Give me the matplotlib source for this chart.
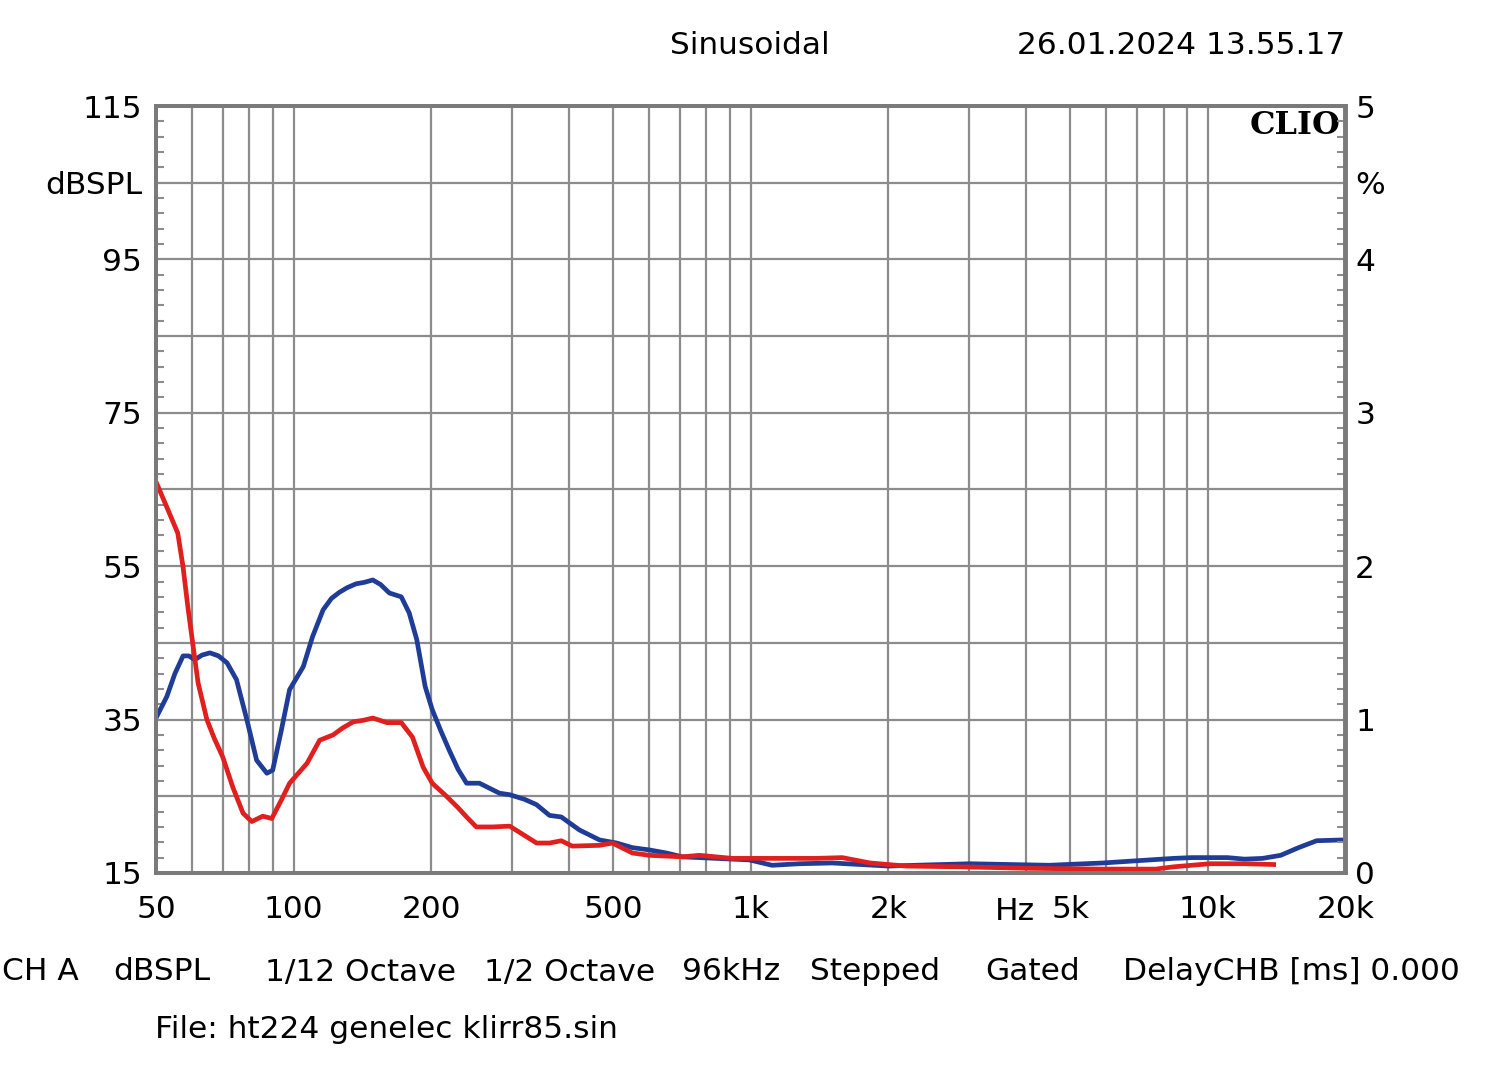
import matplotlib.pyplot as plt
import numpy as np

# curves (frequency in Hz, level on the left dB scale)
blue_f = [50, 52.8, 55, 57.3, 59, 60.8, 63, 65.6, 68.5, 71.5, 75, 79, 83, 87.4, 90, 94, 98, 105, 110, 116,
          121, 126, 131, 137, 143, 149, 155, 162, 172, 179, 186, 194, 201, 210, 219, 229, 239, 255, 282, 297,
          320, 340, 363, 385, 422, 467, 509, 551, 600, 654, 708, 841, 993, 1114, 1276, 1507, 2000, 3015,
          4490, 5890, 7030, 8420, 9220, 11040, 12030, 13170, 14430, 15790, 17290, 19600, 20000]
blue_db = [35.2, 38.0, 41.0, 43.3, 43.3, 42.8, 43.4, 43.7, 43.3, 42.4, 40.2, 35.0, 29.7, 28.0, 28.4, 33.6, 38.9, 41.9, 45.8, 49.3,
           50.8, 51.6, 52.2, 52.7, 52.9, 53.2, 52.6, 51.5, 51.0, 48.9, 45.4, 39.3, 36.3, 33.5, 31.0, 28.5, 26.7, 26.7, 25.4, 25.2,
           24.6, 23.9, 22.5, 22.3, 20.6, 19.3, 18.9, 18.3, 18.0, 17.6, 17.1, 16.9, 16.7, 16.0, 16.2, 16.3, 15.9, 16.2,
           16.0, 16.3, 16.6, 16.9, 17.0, 17.0, 16.8, 16.9, 17.3, 18.3, 19.2, 19.3, 19.3]

red_f = [50, 52.8, 55.8, 57.3, 58.7, 60.3, 61.8, 64.6, 67, 70, 73.6, 77.5, 81, 85.6, 89.6, 94, 98, 107,
         114, 122, 128, 135, 142, 149, 160, 172, 182, 192, 201, 216, 229, 239, 251, 272, 297, 312, 340, 363,
         385, 407, 467, 498, 551, 600, 708, 772, 911, 1081, 1390, 1585, 1824, 2186, 2869,
         4100, 5890, 7690, 8420, 10090, 12030, 13930]
red_db = [66.0, 62.7, 59.3, 54.9, 49.7, 44.5, 39.8, 35.0, 32.6, 30.1, 26.2, 22.8, 21.7, 22.4, 22.1, 24.5, 26.7, 29.3,
          32.3, 33.0, 33.9, 34.7, 34.9, 35.2, 34.6, 34.6, 32.7, 28.8, 26.7, 25.0, 23.5, 22.3, 21.0, 21.0, 21.1, 20.3, 18.9, 18.9,
          19.2, 18.5, 18.6, 18.9, 17.6, 17.3, 17.1, 17.3, 16.9, 16.9, 16.9, 17.0, 16.3, 15.9, 15.8,
          15.6, 15.5, 15.5, 15.8, 16.2, 16.2, 16.1]

grid_f = [60, 70, 80, 90, 100, 200, 300, 400, 500, 600, 700, 800, 900, 1000,
          2000, 3000, 4000, 5000, 6000, 7000, 8000, 9000, 10000]
xlabel_f = [50, 100, 200, 500, 1000, 2000, 5000, 10000, 20000]
xlabel_txt = ['50', '100', '200', '500', '1k', '2k', '5k', '10k', '20k']

left_ticks = [15, 25, 35, 45, 55, 65, 75, 85, 95, 105, 115]
left_labels = ['15', '', '35', '', '55', '', '75', '', '95', 'dBSPL', '115']
right_ticks = [0, 0.5, 1, 1.5, 2, 2.5, 3, 3.5, 4, 4.5, 5]
right_labels = ['0', '', '1', '', '2', '', '3', '', '4', '%', '5']

plt.rcParams['font.family'] = ['DejaVu Sans']
gray = '#8c8c8c'
fs = 22.5

fig = plt.figure(figsize=(15, 10.74), dpi=100)
ax = fig.add_axes([0.104, 0.1872, 0.793, 0.7141])

ax.plot(blue_f, blue_db, color='#1f3c96', lw=3.4, zorder=3)
ax.plot(red_f, red_db, color='#e0201e', lw=3.4, zorder=4)

ax.set_xscale('log')
ax.set_xlim(50, 20000)
ax.set_ylim(15, 115)

# grid
for f in grid_f:
    ax.axvline(f, color=gray, lw=1.6, zorder=1)
for y in left_ticks[1:-1]:
    ax.axhline(y, color=gray, lw=1.6, zorder=1)

ax.set_xticks(xlabel_f)
ax.set_xticklabels(xlabel_txt, fontsize=fs)
ax.xaxis.set_minor_locator(plt.NullLocator())
ax.tick_params(axis='x', length=0, pad=16)

ax.set_yticks(left_ticks)
ax.set_yticklabels(left_labels, fontsize=fs)
ax.set_yticks(np.arange(15, 116, 2), minor=True)
ax.tick_params(axis='y', which='major', length=0, pad=10)
ax.tick_params(axis='y', which='minor', direction='in', length=6, width=1.5, color=gray)

ax2 = ax.twinx()
ax2.set_ylim(0, 5)
ax2.set_yticks(right_ticks)
ax2.set_yticklabels(right_labels, fontsize=fs)
ax2.set_yticks(np.arange(0, 5.01, 0.1), minor=True)
ax2.tick_params(axis='y', which='major', length=0, pad=7)
ax2.tick_params(axis='y', which='minor', direction='in', length=6, width=1.5, color=gray)

for a in (ax, ax2):
    for s in a.spines.values():
        s.set_color('#7a7a7a')
        s.set_linewidth(2.8)

fig.text(1015 / 1500, 1 - 912 / 1074, 'Hz', fontsize=fs, ha='center', va='center')

ax.text(0.996, 0.995, 'CLIO', transform=ax.transAxes, ha='right', va='top',
        fontsize=23, fontweight='bold', family='DejaVu Serif', zorder=5)

fig.text(750 / 1500, 1 - 45 / 1074, 'Sinusoidal', fontsize=fs, ha='center', va='center')
fig.text(1345 / 1500, 1 - 45 / 1074, '26.01.2024 13.55.17', fontsize=fs, ha='right', va='center')

bottom_items = [(2, 'CH A'), (113, 'dBSPL'), (265, '1/12 Octave'), (484, '1/2 Octave'),
                (682, '96kHz'), (810, 'Stepped'), (985, 'Gated'), (1123, 'DelayCHB [ms] 0.000')]
for x, t in bottom_items:
    fig.text(x / 1500, 1 - 972 / 1074, t, fontsize=fs, ha='left', va='center')
fig.text(155 / 1500, 1 - 1030 / 1074, 'File: ht224 genelec klirr85.sin', fontsize=fs,
         ha='left', va='center')

fig.savefig('out.png', dpi=100)
